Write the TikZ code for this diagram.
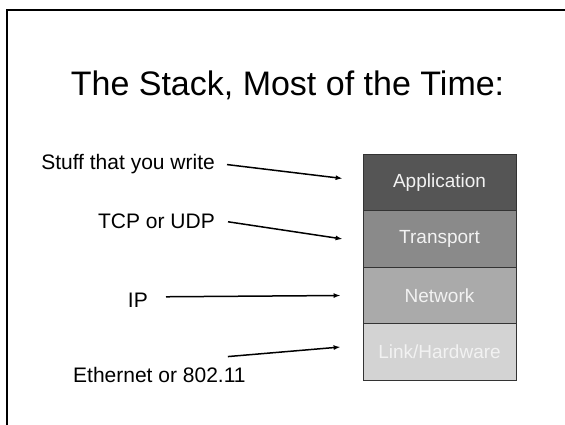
\documentclass[tikz,border=0pt]{standalone}
\usepackage{fontspec}
\setmainfont{Liberation Sans}
\usepackage{tikz}
\usetikzlibrary{positioning,arrows.meta}
\usepackage{xcolor}
\definecolor{appcolor}{RGB}{85, 85, 85}
\definecolor{transcolor}{RGB}{138, 138, 138}
\definecolor{netcolor}{RGB}{170, 170, 170}
\definecolor{linkcolor}{RGB}{211, 211, 211}
\definecolor{layertext}{RGB}{242, 242, 242}

\begin{document}
\begin{tikzpicture}[
    x=1pt, y=-1pt,
    layer/.style={rectangle, draw=black!80, line width=0.8pt, minimum width=153pt, minimum height=56.5pt,
        text=layertext, font=\fontsize{19}{22}\selectfont},
    label/.style={inner sep=0pt, font=\fontsize{21}{25}\selectfont},
    edge/.style={-{Latex[length=7pt,width=5pt]}, line width=1.5pt}
]
    \useasboundingbox (0,0) rectangle (565,425);
    \draw[line width=2pt] (7,425) -- (7,10) -- (565,10);

    \node[anchor=base, inner sep=0pt, font=\fontsize{34}{40}\selectfont] (title) at (287.5,96) {The Stack, Most of the Time:};

    % the stack
    \node[layer, fill=appcolor] (app) at (439.5,182.5) {Application};
    \node[layer, fill=transcolor, below=-0.8pt of app] (trans) {Transport};
    \node[layer, fill=netcolor, below=-0.8pt of trans] (net) {Network};
    \node[layer, fill=linkcolor, below=-0.8pt of net] (link) {Link/Hardware};

    % labels
    \node[label, anchor=base east] (stuff) at (215,170) {Stuff that you write};
    \node[label, anchor=base east] (tcp) at (215,228) {TCP or UDP};
    \node[label, anchor=base east] (ip) at (148,307) {IP};
    \node[label, anchor=base west] (eth) at (73,382) {Ethernet or 802.11};

    \draw[edge] ([xshift=12pt]stuff.east) -- ([xshift=-20pt,yshift=4pt]app.west);
    \draw[edge] ([xshift=13pt,yshift=-1pt]tcp.east) -- ([xshift=-20pt]trans.west);
    \draw[edge] ([xshift=18pt,yshift=3pt]ip.east) -- ([xshift=-22pt]net.west);
    \draw[edge] ([xshift=-18pt,yshift=10pt]eth.north east) -- ([xshift=-22pt,yshift=5pt]link.west);
\end{tikzpicture}
\end{document}
